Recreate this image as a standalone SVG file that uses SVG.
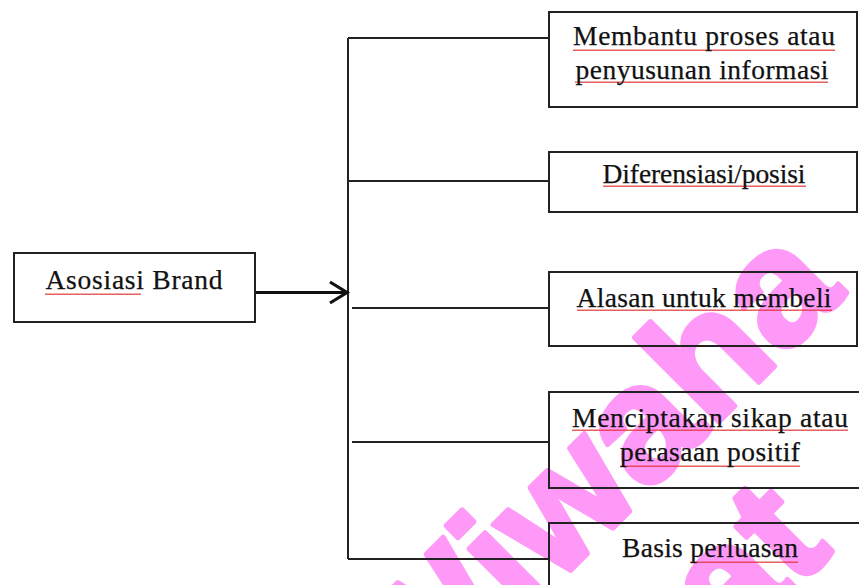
<svg xmlns="http://www.w3.org/2000/svg" width="859" height="585" viewBox="0 0 859 585">
<defs>
<pattern id="sq" patternUnits="userSpaceOnUse" width="4" height="4">
<path d="M0 3 L1 1.5 L2 3 L3 1.5 L4 3" fill="none" stroke="#e03030" stroke-width="0.9"/>
</pattern>
<style>
.box{fill:none;stroke:#222;stroke-width:2}
.ln{fill:none;stroke:#222;stroke-width:2}
.t{font-family:"Liberation Serif","Times New Roman",serif;font-size:27.5px;fill:#111;stroke:#111;stroke-width:0.25;text-anchor:middle}
.wm{font-family:"Liberation Sans",Arial,sans-serif;font-weight:bold;font-size:165px;fill:#ff99f7;stroke:#ff99f7;stroke-width:5;stroke-linejoin:round}
.sq{fill:url(#sq)}
</style>
</defs>
<rect width="859" height="585" fill="#fff"/>
<g id="watermark" transform="translate(413.5,727.5) rotate(-45)">
<text class="wm" x="0" y="0">Wiwaha</text>
<text class="wm" x="423" y="173" text-anchor="end">at</text>
</g>
<g id="connectors">
<line class="ln" x1="348" y1="38" x2="348" y2="559"/>
<line class="ln" x1="348" y1="38" x2="549" y2="38"/>
<line class="ln" x1="348" y1="181" x2="549" y2="181"/>
<line class="ln" x1="352" y1="308" x2="549" y2="308"/>
<line class="ln" x1="352" y1="442" x2="549" y2="442"/>
<line class="ln" x1="348" y1="559" x2="549" y2="559"/>
<line x1="255" y1="292.5" x2="346" y2="292.5" stroke="#111" stroke-width="3.2"/>
<polyline points="330,282 347,292.5 330,303" fill="none" stroke="#111" stroke-width="3.2"/>
</g>
<g id="asosiasi-brand">
<rect class="box" x="14" y="253" width="241" height="69"/>
<rect class="sq" x="45" y="291" width="96" height="4"/>
<text class="t" x="134" y="289" textLength="177">Asosiasi  Brand</text>
</g>
<g id="membantu-proses">
<rect class="box" x="549" y="12" width="308" height="95"/>
<rect class="sq" x="573" y="47" width="262" height="4"/>
<rect class="sq" x="575" y="81" width="253" height="4"/>
<text class="t" x="704" y="45" textLength="262">Membantu proses atau</text>
<text class="t" x="702" y="79" textLength="253">penyusunan informasi</text>
</g>
<g id="diferensiasi">
<rect class="box" x="549" y="152" width="308" height="60"/>
<rect class="sq" x="603" y="185" width="203" height="4"/>
<text class="t" x="704" y="183" textLength="203">Diferensiasi/posisi</text>
</g>
<g id="alasan-membeli">
<rect class="box" x="549" y="272" width="308" height="74"/>
<rect class="sq" x="577" y="309" width="255" height="4"/>
<text class="t" x="704" y="307" textLength="255">Alasan untuk membeli</text>
</g>
<g id="menciptakan-sikap">
<rect class="box" x="549" y="392" width="320" height="96"/>
<rect class="sq" x="572" y="429" width="276" height="4"/>
<rect class="sq" x="620" y="463" width="180" height="4"/>
<text class="t" x="710" y="427" textLength="276">Menciptakan sikap atau</text>
<text class="t" x="710" y="461" textLength="180">perasaan positif</text>
</g>
<g id="basis-perluasan">
<rect class="box" x="549" y="523" width="320" height="80"/>
<rect class="sq" x="690" y="559" width="108" height="4"/>
<text class="t" x="710" y="557" textLength="176">Basis perluasan</text>
</g>
</svg>
